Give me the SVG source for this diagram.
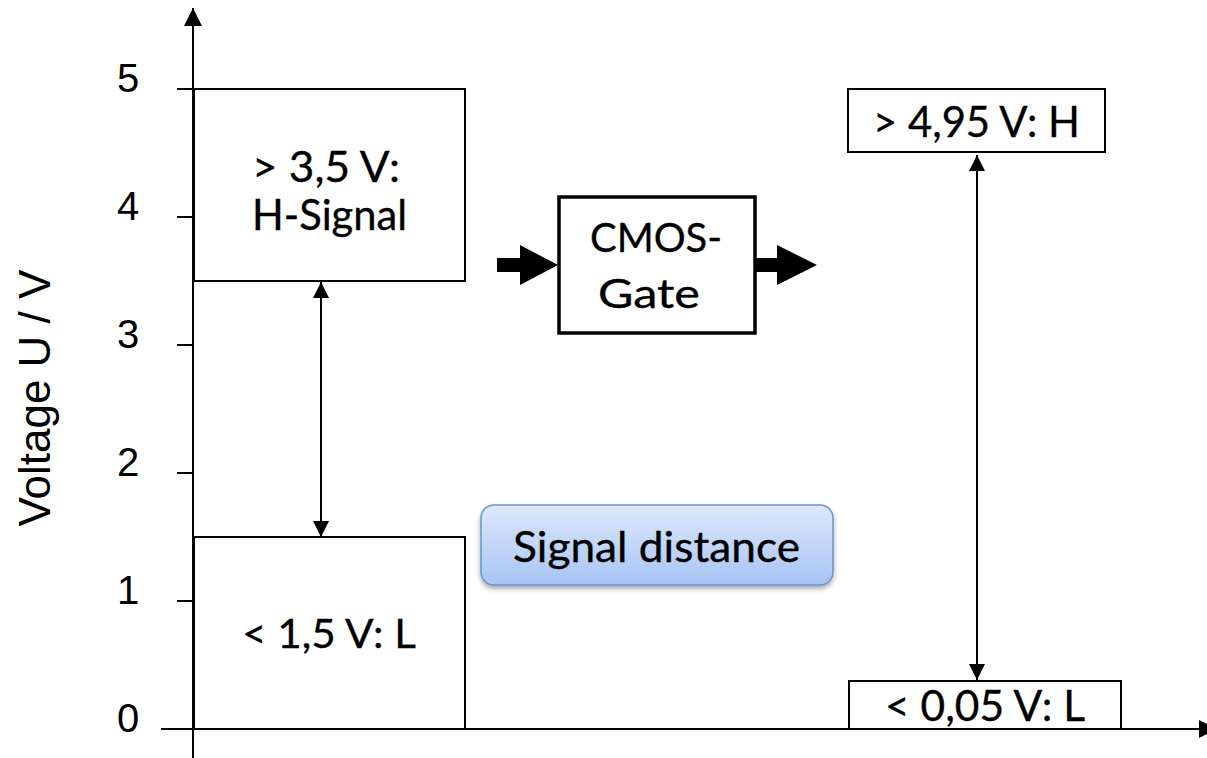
<svg xmlns="http://www.w3.org/2000/svg" width="1207" height="758" viewBox="0 0 1207 758">
<style>
.ln{stroke:#000;stroke-width:2;fill:none}
.box{stroke:#000;stroke-width:2;fill:#fff}
.num{font-family:"Liberation Sans",Arial,sans-serif;font-size:40px;text-anchor:middle;fill:#000}
.lbl{font-family:Lato,"Open Sans",sans-serif;text-anchor:middle;fill:#000;stroke:#000;stroke-width:0.35}
</style>
<defs>
<marker id="ah" markerUnits="userSpaceOnUse" markerWidth="16" markerHeight="16" viewBox="0 0 16 16" refX="16" refY="8" orient="auto-start-reverse">
<path d="M0,0 L16,8 L0,16 z" fill="#000"/>
</marker>
<marker id="axh" markerUnits="userSpaceOnUse" markerWidth="18" markerHeight="18" viewBox="0 0 18 18" refX="18" refY="9" orient="auto">
<path d="M0,0 L18,9 L0,18 z" fill="#000"/>
</marker>
<linearGradient id="bg" x1="0" y1="0" x2="0" y2="1">
<stop offset="0" stop-color="#dde8fc"/>
<stop offset="1" stop-color="#a7c4f4"/>
</linearGradient>
<filter id="sh" x="-10%" y="-20%" width="120%" height="150%">
<feDropShadow dx="0" dy="3" stdDeviation="2.5" flood-color="#000" flood-opacity="0.35"/>
</filter>
</defs>

<g id="axes">
<line class="ln" x1="193" y1="758" x2="193" y2="8" marker-end="url(#axh)"/>
<line class="ln" x1="161" y1="729" x2="1217" y2="729" marker-end="url(#axh)"/>
<line class="ln" x1="177" y1="89" x2="193" y2="89"/>
<line class="ln" x1="177" y1="217" x2="193" y2="217"/>
<line class="ln" x1="177" y1="345" x2="193" y2="345"/>
<line class="ln" x1="177" y1="473" x2="193" y2="473"/>
<line class="ln" x1="177" y1="601" x2="193" y2="601"/>
<text class="num" x="128" y="92">5</text>
<text class="num" x="128" y="220">4</text>
<text class="num" x="128" y="348">3</text>
<text class="num" x="128" y="476">2</text>
<text class="num" x="128" y="604">1</text>
<text class="num" x="128" y="732">0</text>
<text class="num" style="font-size:44px" transform="translate(50,398) rotate(-90)">Voltage U / V</text>
</g>

<g id="h-box">
<rect class="box" x="194" y="89" width="271" height="192"/>
<text class="lbl" x="326" y="182" font-size="42" textLength="148" lengthAdjust="spacingAndGlyphs">&gt; 3,5 V:</text>
<text class="lbl" x="329.5" y="230" font-size="42" textLength="155" lengthAdjust="spacingAndGlyphs">H-Signal</text>
</g>

<g id="l-box">
<rect class="box" x="194" y="537" width="271" height="192"/>
<text class="lbl" x="329" y="648" font-size="41" textLength="174" lengthAdjust="spacingAndGlyphs">&lt; 1,5 V: L</text>
</g>

<g id="cmos-gate">
<rect x="559" y="197" width="196" height="136" fill="#fff" stroke="#000" stroke-width="3.5"/>
<text class="lbl" x="656" y="252" font-size="41" textLength="132" lengthAdjust="spacingAndGlyphs">CMOS-</text>
<text class="lbl" x="649" y="308" font-size="41" textLength="102" lengthAdjust="spacingAndGlyphs">Gate</text>
</g>

<g id="out-h">
<rect class="box" x="848" y="89" width="257" height="63"/>
<text class="lbl" x="976.5" y="137" font-size="42" textLength="207" lengthAdjust="spacingAndGlyphs">&gt; 4,95 V: H</text>
</g>

<g id="out-l">
<rect class="box" x="849" y="681" width="272" height="48"/>
<text class="lbl" x="985" y="721" font-size="42" textLength="200" lengthAdjust="spacingAndGlyphs">&lt; 0,05 V: L</text>
</g>

<g id="signal-distance">
<rect x="481" y="505" width="352" height="80" rx="13" ry="13" fill="url(#bg)" stroke="#6a93d3" stroke-width="1.5" filter="url(#sh)"/>
<text class="lbl" x="656.5" y="562" font-size="42" textLength="287" lengthAdjust="spacingAndGlyphs">Signal distance</text>
</g>

<g id="connectors">
<line class="ln" x1="321" y1="282" x2="321" y2="537" marker-start="url(#ah)" marker-end="url(#ah)"/>
<line class="ln" x1="977" y1="155" x2="977" y2="680" marker-start="url(#ah)" marker-end="url(#ah)"/>
<polygon points="497,258 520,258 520,245 558,265 520,285 520,272 497,272" fill="#000"/>
<polygon points="755,258 777,258 777,245 817,265 777,285 777,272 755,272" fill="#000"/>
</g>
</svg>
